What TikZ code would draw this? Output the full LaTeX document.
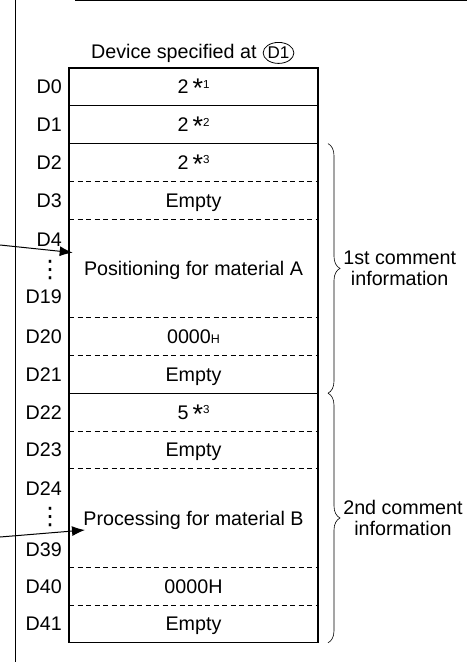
\documentclass[tikz,border=0pt]{standalone}
\usepackage{fontspec}
\setmainfont{Liberation Sans}
\newfontfamily\symfont{DejaVu Sans}
\usepackage{tikz}
\usetikzlibrary{positioning,arrows.meta,decorations.pathreplacing,shapes.geometric}
\newcommand{\regdots}{{\symfont\fontsize{24}{24}\selectfont ⋮}}
\newcommand{\astx}[1]{\hspace{4pt}\raisebox{-4pt}{\fontsize{27}{27}\selectfont *}%
  \raisebox{5.7pt}{\fontsize{11.6}{12}\selectfont #1}}

\begin{document}
\begin{tikzpicture}[x=1pt, y=1pt, >={Latex[length=13pt,width=10pt]},
  font=\fontsize{19.7}{21}\selectfont,
  cell/.style={minimum width=249pt, minimum height=37.8pt, inner sep=0pt,
    outer sep=0pt, text height=14pt, text depth=0pt},
  tall/.style={cell, minimum height=98.4pt},
  reg/.style={inner sep=0pt, text height=14pt, text depth=0pt, anchor=east},
  sep/.style={dash pattern=on 5pt off 3.5pt, line width=0.8pt},
  cmt/.style={align=center, inner sep=0pt}]
\useasboundingbox (0,0) rectangle (467,-662);
\draw[line width=1.3pt] (75,-0.7) -- (467,-0.7);
\draw[line width=1.3pt] (15.5,0) -- (15.5,-662);

\node[anchor=base west, inner sep=0pt] (hdr) at (91,-58) {Device specified at};
\node[draw, ellipse, inner sep=0pt, minimum height=21pt, minimum width=29pt,
  line width=0.8pt, font=\fontsize{17}{17}\selectfont, right=6pt of hdr] (at1) {D1};

\node[cell, anchor=north west] (d0) at (69,-68) {2\astx{1}};
\node[cell, below=0pt of d0] (d1) {2\astx{2}};
\node[cell, below=0pt of d1] (d2) {2\astx{3}};
\node[cell, below=0pt of d2] (d3) {Empty};
\node[tall, below=0pt of d3] (d4) {Positioning for material A};
\node[cell, below=0pt of d4] (d20) {0000{\fontsize{12.5}{13}\selectfont H}};
\node[cell, below=0pt of d20] (d21) {Empty};
\node[cell, below=0pt of d21] (d22) {5\astx{3}};
\node[cell, below=0pt of d22] (d23) {Empty};
\node[tall, below=0pt of d23] (d24) {Processing for material B};
\node[cell, below=0pt of d24] (d40) {0000H};
\node[cell, below=0pt of d40] (d41) {Empty};

\draw[line width=1.2pt] (d0.north west) rectangle (d41.south east);
\draw[line width=1.2pt] (d0.south west) -- (d0.south east);
\draw[line width=1.2pt] (d1.south west) -- (d1.south east);
\draw[line width=1.2pt] (d21.south west) -- (d21.south east);
\draw[sep] (d2.south west) -- (d2.south east);
\draw[sep] (d3.south west) -- (d3.south east);
\draw[sep] (d4.south west) -- (d4.south east);
\draw[sep] (d20.south west) -- (d20.south east);
\draw[sep] (d22.south west) -- (d22.south east);
\draw[sep] (d23.south west) -- (d23.south east);
\draw[sep] (d24.south west) -- (d24.south east);
\draw[sep] (d40.south west) -- (d40.south east);

\node[reg, left=7pt of d0] (ld0) {D0};
\node[reg, left=7pt of d1] (ld1) {D1};
\node[reg, left=7pt of d2] (ld2) {D2};
\node[reg, left=7pt of d3] (ld3) {D3};
\node[reg] (ld4) at ([xshift=-7pt, yshift=-20.7pt]d4.north west) {D4};
\node[inner sep=0pt] (vd4) at ([xshift=-19pt, yshift=-50.7pt]d4.north west) {\regdots};
\node[reg] (ld19) at ([xshift=-7pt, yshift=-77.7pt]d4.north west) {D19};
\node[reg, left=7pt of d20] (ld20) {D20};
\node[reg, left=7pt of d21] (ld21) {D21};
\node[reg, left=7pt of d22] (ld22) {D22};
\node[reg, left=7pt of d23] (ld23) {D23};
\node[reg] (ld24) at ([xshift=-7pt, yshift=-19.5pt]d24.north west) {D24};
\node[inner sep=0pt] (vd24) at ([xshift=-19pt, yshift=-48pt]d24.north west) {\regdots};
\node[reg] (ld39) at ([xshift=-7pt, yshift=-80.5pt]d24.north west) {D39};
\node[reg, left=7pt of d40] (ld40) {D40};
\node[reg, left=7pt of d41] (ld41) {D41};

\draw[decorate, decoration={brace, amplitude=12pt}, line width=0.6pt]
  ([xshift=10pt]d2.north east) -- node[cmt, right=15pt] (c1) {1st comment\\information}
  ([xshift=10pt]d21.south east);
\draw[decorate, decoration={brace, amplitude=12pt}, line width=0.6pt]
  ([xshift=10pt]d22.north east) -- node[cmt, right=15pt] (c2) {2nd comment\\information}
  ([xshift=10pt]d41.south east);

\coordinate (inA) at (0,-245);
\coordinate (inB) at (0,-537);
\draw[-{Latex[length=13pt,width=10pt]}, line width=1pt] (inA)
  -- ([xshift=3.7pt, yshift=-33.4pt]d4.north west);
\draw[-{Latex[length=13pt,width=10pt]}, line width=1pt] (inB)
  -- ([xshift=16pt, yshift=-61.2pt]d24.north west);
\end{tikzpicture}
\end{document}
